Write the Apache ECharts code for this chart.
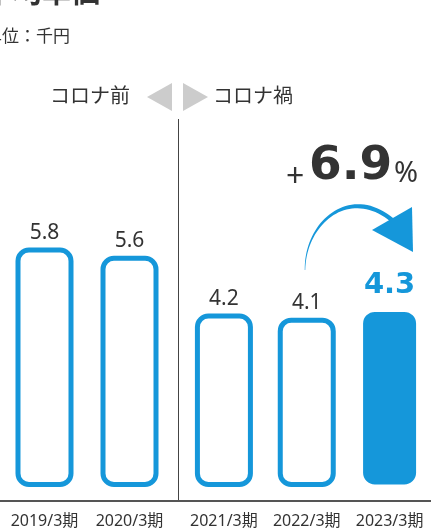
<!DOCTYPE html>
<html>
<head>
<meta charset="utf-8">
<script src="https://cdn.jsdelivr.net/npm/echarts@6/dist/echarts.min.js"></script>
<style>
  html, body { margin: 0; padding: 0; background: #fff; }
  #chart { width: 431px; height: 530px; }
</style>
</head>
<body>
<div id="chart"></div>
<script>
// Periods before and during the pandemic, average unit price (thousand yen)
const preCovidPeriods = ['2019/3期', '2020/3期'];
const preCovidValues = [5.8, 5.6];
const covidPeriods = ['2021/3期', '2022/3期', '2023/3期'];
const covidValues = [4.2, 4.1, 4.3];
const growthText = '6.9';

const BLUE = '#1597da';
const TEXT = '#333333';
const SANS = '"Noto Sans", "Noto Sans CJK JP", sans-serif';
const WIDE = '"DejaVu Sans", "Noto Sans CJK JP", sans-serif';

const chart = echarts.init(document.getElementById('chart'), null, { renderer: 'canvas' });

const outlineStyle = {
  color: '#ffffff',
  borderColor: BLUE,
  borderWidth: 5,
  borderRadius: 11
};
const valueLabel = {
  show: true,
  position: 'top',
  distance: 4,
  fontSize: 21,
  color: TEXT,
  fontFamily: SANS,
  formatter: p => p.value.toFixed(1)
};

const axisX = (grid, data) => ({
  gridIndex: grid,
  type: 'category',
  data: data,
  offset: 14,
  axisLine: { show: false },
  axisTick: { show: false },
  axisLabel: { interval: 0, margin: 12, fontSize: 16, color: TEXT, fontFamily: SANS }
});
const axisY = grid => ({ gridIndex: grid, type: 'value', min: 0, max: 10, show: false });

// The latest period is highlighted as a solid bar with a large label;
// a thin white rim keeps the solid bar slightly slimmer than the outlined ones
const covidData = covidValues.map((v, i) => {
  if (i !== covidValues.length - 1) return v;
  return {
    value: v,
    itemStyle: { color: BLUE, borderColor: '#ffffff', borderWidth: 2.5, borderRadius: 13 },
    label: {
      fontSize: 29, fontWeight: 'bold', color: BLUE, fontFamily: WIDE, distance: 9
    }
  };
});

// Tapered arc leading into the arrow head
function arcPolygon() {
  const p0 = [305, 270], p1 = [305, 222], p2 = [350, 185], p3 = [392, 220];
  const pt = t => {
    const a = (1 - t) ** 3, b = 3 * (1 - t) ** 2 * t, c = 3 * (1 - t) * t * t, d = t ** 3;
    return [a * p0[0] + b * p1[0] + c * p2[0] + d * p3[0], a * p0[1] + b * p1[1] + c * p2[1] + d * p3[1]];
  };
  const left = [], right = [];
  const n = 40;
  for (let i = 0; i <= n; i++) {
    const t = i / n;
    const [x, y] = pt(t);
    const [x2, y2] = pt(Math.min(1, t + 0.01));
    const [x1, y1] = pt(Math.max(0, t - 0.01));
    const dx = x2 - x1, dy = y2 - y1;
    const len = Math.hypot(dx, dy) || 1;
    const nx = -dy / len, ny = dx / len;
    const w = (0.5 + 3.8 * Math.min(1, t * 1.3)) / 2;
    left.push([x + nx * w, y + ny * w]);
    right.push([x - nx * w, y - ny * w]);
  }
  return left.concat(right.reverse());
}

const option = {
  backgroundColor: '#ffffff',
  animation: false,
  grid: [
    { left: 2, width: 170, top: 74, bottom: 43 },
    { left: 182.5, width: 255, top: 74, bottom: 43 }
  ],
  xAxis: [axisX(0, preCovidPeriods), axisX(1, covidPeriods)],
  yAxis: [axisY(0), axisY(1)],
  series: [
    {
      type: 'bar', xAxisIndex: 0, yAxisIndex: 0, barWidth: 58,
      data: preCovidValues, itemStyle: outlineStyle, label: valueLabel
    },
    {
      type: 'bar', xAxisIndex: 1, yAxisIndex: 1, barWidth: 58,
      data: covidData, itemStyle: outlineStyle, label: valueLabel
    }
  ],
  graphic: [
    { type: 'text', x: -16, y: -5, style: { text: '平均単価', fontSize: 29, fontWeight: 'bold', fontFamily: SANS, fill: TEXT, verticalAlign: 'middle' } },
    { type: 'text', x: -15, y: 37, style: { text: '単位：千円', fontSize: 17, fontFamily: SANS, fill: TEXT, verticalAlign: 'middle' } },
    { type: 'text', x: 50, y: 97, style: { text: 'コロナ前', fontSize: 20, fontFamily: SANS, fill: TEXT, verticalAlign: 'middle' } },
    { type: 'text', x: 213, y: 97, style: { text: 'コロナ禍', fontSize: 20, fontFamily: SANS, fill: TEXT, verticalAlign: 'middle' } },
    { type: 'polygon', shape: { points: [[147, 97], [172, 83], [172, 111]] }, style: { fill: '#cccccc' } },
    { type: 'polygon', shape: { points: [[208, 97], [183, 83], [183, 111]] }, style: { fill: '#cccccc' } },
    { type: 'line', shape: { x1: 178.5, y1: 119, x2: 178.5, y2: 501 }, style: { stroke: '#444444', lineWidth: 1 } },
    { type: 'line', shape: { x1: 0, y1: 501, x2: 431, y2: 501 }, style: { stroke: '#555555', lineWidth: 2 } },
    { type: 'text', x: 286, y: 178, style: { text: '+', fontSize: 32, fontFamily: SANS, fill: TEXT, verticalAlign: 'middle' } },
    { type: 'text', x: 309, y: 167, style: { text: growthText, fontSize: 47, fontWeight: 'bold', fontFamily: WIDE, fill: TEXT, verticalAlign: 'middle' } },
    { type: 'text', x: 394, y: 174, style: { text: '%', fontSize: 29, fontFamily: SANS, fill: TEXT, verticalAlign: 'middle' } },
    { type: 'polygon', shape: { points: arcPolygon() }, style: { fill: BLUE } },
    { type: 'polygon', shape: { points: [[372, 230], [412, 207], [413, 252]] }, style: { fill: BLUE } }
  ]
};

chart.setOption(option);
</script>
</body>
</html>
